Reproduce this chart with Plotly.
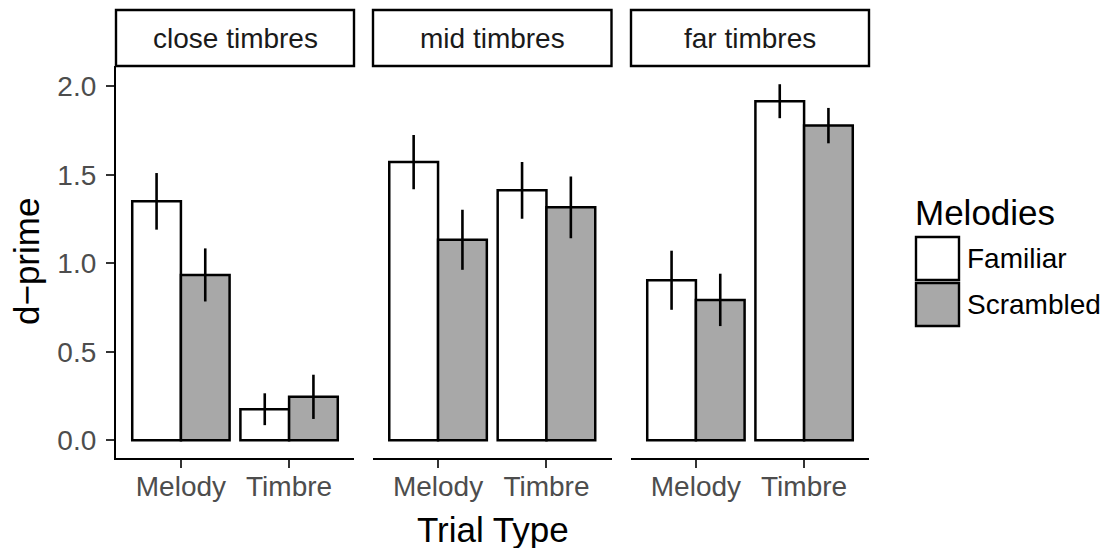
import plotly.graph_objects as go

# ---- data ----
panels = ["close timbres", "mid timbres", "far timbres"]
trial_types = ["Melody", "Timbre"]
melody_groups = ["Familiar", "Scrambled"]

close_familiar = [1.35, 0.175]
close_familiar_se = [0.16, 0.09]
close_scrambled = [0.934, 0.245]
close_scrambled_se = [0.15, 0.125]

mid_familiar = [1.572, 1.412]
mid_familiar_se = [0.153, 0.16]
mid_scrambled = [1.133, 1.316]
mid_scrambled_se = [0.17, 0.175]

far_familiar = [0.904, 1.916]
far_familiar_se = [0.167, 0.096]
far_scrambled = [0.793, 1.778]
far_scrambled_se = [0.148, 0.10]

y_ticks = [0.0, 0.5, 1.0, 1.5, 2.0]

# ---- styling ----
OFF = 8  # page body margin
W, H = 1108 - OFF, 548 - OFF
FONT = "Liberation Sans"
fills = {"Familiar": "#FFFFFF", "Scrambled": "#A8A8A8"}


def px(x):
    return (x - OFF) / W


def py(y):
    return 1 - (y - OFF) / H


panel_px = [(116, 354), (373, 611.5), (631, 869)]
plot_top, plot_bottom = 66, 458
strip_top = 10

series = {
    0: [(close_familiar, close_familiar_se), (close_scrambled, close_scrambled_se)],
    1: [(mid_familiar, mid_familiar_se), (mid_scrambled, mid_scrambled_se)],
    2: [(far_familiar, far_familiar_se), (far_scrambled, far_scrambled_se)],
}

fig = go.Figure()
for i in range(3):
    xa = "x" if i == 0 else f"x{i+1}"
    for g, (vals, se) in zip(melody_groups, series[i]):
        fig.add_trace(go.Bar(
            x=trial_types, y=vals, name=g, xaxis=xa, yaxis="y",
            offsetgroup=g,
            marker=dict(color=fills[g], line=dict(color="black", width=2.5)),
            error_y=dict(type="data", array=se, visible=True, color="black",
                         thickness=2.6, width=0),
            showlegend=False,
        ))

layout = dict(
    width=W, height=H,
    margin=dict(l=0, r=0, t=0, b=0),
    paper_bgcolor="white", plot_bgcolor="white",
    barmode="group", bargap=0.1, bargroupgap=0,
    font=dict(family=FONT, size=28, color="#4D4D4D"),
    showlegend=False,
)
yd = [py(plot_bottom), py(plot_top)]
for i, (x0, x1) in enumerate(panel_px):
    key = "xaxis" if i == 0 else f"xaxis{i+1}"
    layout[key] = dict(
        domain=[px(x0), px(x1)], anchor="y", range=[-0.6, 1.6],
        type="category", categoryorder="array", categoryarray=trial_types,
        showline=True, linecolor="black", linewidth=2.2,
        ticks="outside", ticklen=8, tickwidth=2, tickcolor="#333333",
        tickfont=dict(family=FONT, size=28, color="#4D4D4D"),
        ticklabelstandoff=-6,
        showgrid=False, zeroline=False, fixedrange=True,
    )
layout["yaxis"] = dict(
    domain=yd, range=[-0.1007, 2.115], anchor="x",
    tickvals=y_ticks, ticktext=[f"{v:.1f}" for v in y_ticks],
    showline=True, linecolor="black", linewidth=2.2,
    ticks="outside", ticklen=8, tickwidth=2, tickcolor="#333333",
    tickfont=dict(family=FONT, size=28, color="#4D4D4D"),
    ticklabelstandoff=4,
    showgrid=False, zeroline=False, fixedrange=True,
)
fig.update_layout(**layout)

shapes = []
annotations = []
# facet strips
for (x0, x1), name in zip(panel_px, panels):
    shapes.append(dict(type="rect", xref="paper", yref="paper",
                       x0=px(x0), x1=px(x1), y0=py(plot_top), y1=py(strip_top),
                       line=dict(color="black", width=2.4), fillcolor="white"))
    annotations.append(dict(xref="paper", yref="paper", x=px((x0 + x1) / 2),
                            y=py((strip_top + plot_top) / 2), text=name,
                            showarrow=False, xanchor="center", yanchor="middle",
                            font=dict(family=FONT, size=28, color="#1A1A1A")))

# axis titles
annotations.append(dict(xref="paper", yref="paper", x=px((116 + 869) / 2), y=py(529),
                        text="Trial Type", showarrow=False, xanchor="center",
                        yanchor="middle", font=dict(family=FONT, size=35, color="black")))
annotations.append(dict(xref="paper", yref="paper", x=px(27), y=py((plot_top + plot_bottom) / 2),
                        text="d\u2212prime", textangle=-90, showarrow=False,
                        xanchor="center", yanchor="middle", borderpad=0,
                        font=dict(family=FONT, size=35, color="black")))

# legend
annotations.append(dict(xref="paper", yref="paper", x=px(913), y=py(212),
                        text="Melodies", showarrow=False, xanchor="left",
                        yanchor="middle", font=dict(family=FONT, size=35, color="black")))
key_rows = [(237, 280), (283, 326)]
for g, (k0, k1) in zip(melody_groups, key_rows):
    shapes.append(dict(type="rect", xref="paper", yref="paper",
                       x0=px(916), x1=px(959), y0=py(k1), y1=py(k0),
                       line=dict(color="black", width=2.4), fillcolor=fills[g]))
    annotations.append(dict(xref="paper", yref="paper", x=px(965), y=py((k0 + k1) / 2),
                            text=g, showarrow=False, xanchor="left", yanchor="middle",
                            font=dict(family=FONT, size=28, color="black")))

fig.update_layout(shapes=shapes, annotations=annotations)
fig.write_html("out.html")
